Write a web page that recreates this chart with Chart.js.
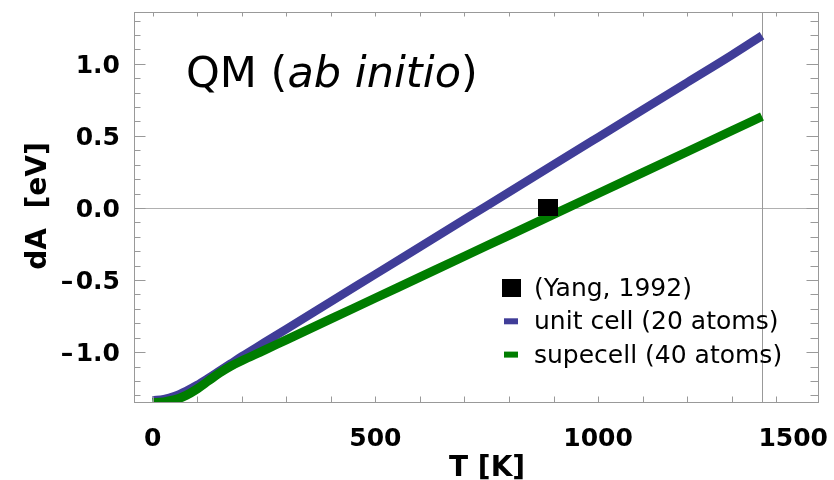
<!DOCTYPE html>
<html>
<head>
<meta charset="utf-8">
<script src="https://cdn.jsdelivr.net/npm/chart.js@4.4.1/dist/chart.umd.min.js"></script>
<style>
  html, body { margin: 0; padding: 0; background: #fff; overflow: hidden; }
  canvas { display: block; }
</style>
</head>
<body>
<canvas id="dAChart" width="834" height="480"></canvas>
<script>
// temperature grid (K) of the computed curves
const temps = [0, 25, 50, 75, 100, 125, 150, 175, 200, 250, 300, 400, 500, 600, 700, 800, 900, 1000, 1100, 1200, 1300, 1368];
// dA [eV], unit cell (20 atoms)
const unitCell = [-1.335, -1.327, -1.305, -1.27, -1.228, -1.18, -1.13, -1.08, -1.03, -0.935, -0.84, -0.65, -0.46, -0.27, -0.08, 0.11, 0.30, 0.49, 0.68, 0.87, 1.06, 1.195];
// dA [eV], supercell (40 atoms)
const superCell = [-1.35, -1.345, -1.33, -1.30, -1.255, -1.20, -1.145, -1.098, -1.06, -0.988, -0.915, -0.77, -0.625, -0.48, -0.335, -0.19, -0.045, 0.10, 0.245, 0.39, 0.535, 0.634];
// experimental point
const yangT = [887];
const yangDA = [0.005];

const xTickLabels = [0, 500, 1000, 1500];
const yTickLabels = [-1.0, -0.5, 0.0, 0.5, 1.0];
const CUTOFF_T = 1368;

const FONT = '"DejaVu Sans", sans-serif';

// filled box used as the marker of the experimental point
const box = document.createElement('canvas');
box.width = 20;
box.height = 17;
box.getContext('2d').fillRect(0, 0, 20, 17);

function hline(ctx, x1, x2, y) {
    ctx.beginPath();
    ctx.moveTo(x1, y);
    ctx.lineTo(x2, y);
    ctx.stroke();
}

function vline(ctx, x, y1, y2) {
    ctx.beginPath();
    ctx.moveTo(x, y1);
    ctx.lineTo(x, y2);
    ctx.stroke();
}

function fmtY(v) {
    const s = Math.abs(v).toFixed(1);
    return v < 0 ? '\u2013\u200a' + s : s;
}

const frame = {
    id: 'frame',
    beforeDatasetsDraw(chart) {
        const { ctx, chartArea: a, scales: { x, y } } = chart;
        ctx.save();
        ctx.strokeStyle = '#b0b0b0';
        ctx.lineWidth = 1;
        hline(ctx, a.left, a.right, Math.round(y.getPixelForValue(0)) + 0.5);
        ctx.strokeStyle = '#999';
        vline(ctx, Math.round(x.getPixelForValue(CUTOFF_T)) + 0.5, a.top, a.bottom);
        ctx.restore();
    },
    afterDraw(chart) {
        const { ctx, chartArea: a, scales: { x, y } } = chart;
        ctx.save();

        // box + inward ticks
        ctx.strokeStyle = '#999';
        ctx.lineWidth = 1;
        const L = a.left + 0.5, R = a.right - 0.5, T = a.top + 0.5, B = a.bottom - 0.5;
        ctx.strokeRect(L, T, R - L, B - T);
        for (let t = 0; t <= 1400; t += 100) {
            const px = Math.round(x.getPixelForValue(t)) + 0.5;
            vline(ctx, px, T, T + 4);
            vline(ctx, px, B, B - 6);
        }
        for (let k = -13; k <= 13; k++) {
            const py = Math.round(y.getPixelForValue(k / 10)) + 0.5;
            const major = k % 5 === 0;
            hline(ctx, L, L + (major ? 11 : 6), py);
            hline(ctx, R, R - (major ? 12 : 8), py);
        }

        // tick labels
        ctx.fillStyle = '#000';
        ctx.font = 'bold 25px ' + FONT;
        ctx.textAlign = 'right';
        ctx.textBaseline = 'alphabetic';
        for (const v of yTickLabels) {
            ctx.fillText(fmtY(v), 120, y.getPixelForValue(v) + 9);
        }
        ctx.textAlign = 'center';
        for (const v of xTickLabels) {
            const s = String(v);
            const w = ctx.measureText(s).width;
            const px = Math.min(x.getPixelForValue(v), chart.width - 6 - w / 2);
            ctx.fillText(s, px, 446);
        }

        // axis titles
        ctx.font = 'bold 28px ' + FONT;
        ctx.textAlign = 'left';
        ctx.fillText('T [K]', 449, 476);
        ctx.save();
        ctx.translate(46, 206);
        ctx.rotate(-Math.PI / 2);
        ctx.textAlign = 'center';
        ctx.fillText('dA  [eV]', 0, 0);
        ctx.restore();

        // panel label
        let tx = 186;
        const parts = [['QM (', ''], ['ab initio', 'italic '], [')', '']];
        for (const [s, style] of parts) {
            ctx.font = style + '43px ' + FONT;
            ctx.fillText(s, tx, 87);
            tx += ctx.measureText(s).width;
        }

        // legend
        ctx.font = '25px ' + FONT;
        chart.data.datasets.forEach((ds, i) => {
            const cy = 288 + i * 33.3;
            if (ds.showLine === false) {
                ctx.fillStyle = '#000';
                ctx.fillRect(502, cy - 9, 19, 18);
            } else {
                ctx.fillStyle = ds.borderColor;
                ctx.fillRect(504, cy - 3, 14, 6);
            }
            ctx.fillStyle = '#000';
            ctx.fillText(ds.label, 534, cy + 8);
        });

        ctx.restore();
    },
};

new Chart(document.getElementById('dAChart'), {
    type: 'line',
    data: {
        datasets: [
            {
                label: '(Yang, 1992)',
                data: yangT.map((t, i) => ({ x: t, y: yangDA[i] })),
                showLine: false,
                pointStyle: box,
                pointRadius: 10,
                backgroundColor: '#000',
                order: 0,
            },
            {
                label: 'unit cell (20 atoms)',
                data: temps.map((t, i) => ({ x: t, y: unitCell[i] })),
                borderColor: '#403d98',
                borderWidth: 8.5,
                pointRadius: 0,
                cubicInterpolationMode: 'monotone',
                order: 2,
            },
            {
                // drawn over the unit-cell curve where they overlap
                label: 'supecell (40 atoms)',
                data: temps.map((t, i) => ({ x: t, y: superCell[i] })),
                borderColor: '#007d00',
                borderWidth: 9,
                pointRadius: 0,
                cubicInterpolationMode: 'monotone',
                order: 1,
            },
        ],
    },
    options: {
        responsive: false,
        animation: false,
        events: [],
        layout: { padding: { left: 134, top: 12, right: 15, bottom: 77 } },
        scales: {
            x: { type: 'linear', min: -42, max: 1496, display: false },
            y: { min: -1.353, max: 1.359, display: false },
        },
        plugins: {
            legend: { display: false },
            tooltip: { enabled: false },
        },
    },
    plugins: [frame],
});
</script>
</body>
</html>
